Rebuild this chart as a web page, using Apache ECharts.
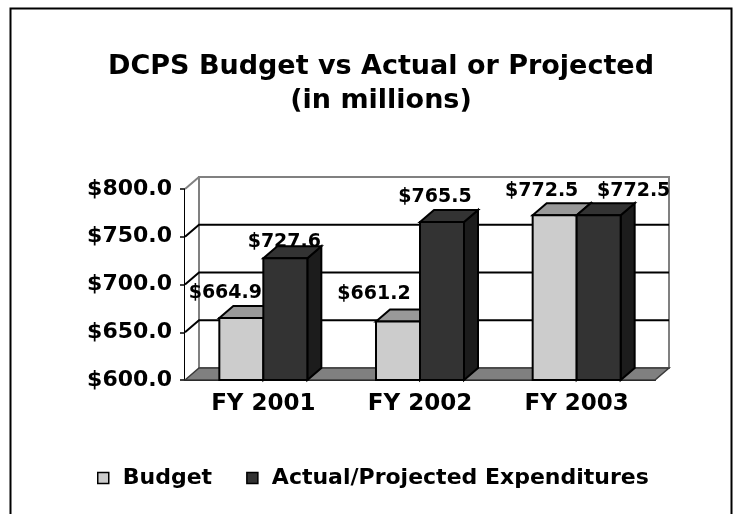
<!DOCTYPE html>
<html>
<head>
<meta charset="utf-8">
<script src="https://cdn.jsdelivr.net/npm/echarts@6/dist/echarts.min.js"></script>
<style>
  html, body { margin: 0; padding: 0; background: #fff; }
  #chart { width: 741px; height: 514px; }
</style>
</head>
<body>
<div id="chart"></div>
<script>
// 数据
var years = ['FY 2001', 'FY 2002', 'FY 2003'];
var budget = [664.9, 661.2, 772.5];
var actual = [727.6, 765.5, 772.5];
var yTicks = [600, 650, 700, 750, 800];

// 3D 外观
var DX = 14, DY = -12, BAR_W = 44;
var FONT = '"DejaVu Sans", sans-serif';
var budgetNudge = [[-16, -25], [-24, -27], [-13, -24]];
var actualNudge = [[-1, -16], [-7, -25], [35, -24]];

function bar3d(side, colors, nudge) {
    return function (params, api) {
        var i = api.value(0), v = api.value(1);
        var top = api.coord([i, v]);
        var base = api.coord([i, yTicks[0]]);
        var x0 = side === 0 ? top[0] - BAR_W : top[0];
        var x1 = x0 + BAR_W;
        var ty = top[1], by = base[1];
        var line = { stroke: '#000', lineWidth: 2 };
        return {
            type: 'group',
            children: [
                {
                    type: 'text',
                    style: {
                        text: '$' + v.toFixed(1),
                        x: x0 + BAR_W / 2 + nudge[i][0],
                        y: ty + nudge[i][1],
                        align: 'center',
                        verticalAlign: 'middle',
                        font: 'bold 19px ' + FONT,
                        fill: '#000'
                    }
                },
                {
                    type: 'polygon',
                    shape: { points: [[x1, ty], [x1 + DX, ty + DY], [x1 + DX, by + DY], [x1, by]] },
                    style: Object.assign({ fill: colors.side }, line)
                },
                {
                    type: 'polygon',
                    shape: { points: [[x0, ty], [x0 + DX, ty + DY], [x1 + DX, ty + DY], [x1, ty]] },
                    style: Object.assign({ fill: colors.top }, line)
                },
                {
                    type: 'rect',
                    shape: { x: x0, y: ty, width: BAR_W, height: by - ty },
                    style: Object.assign({ fill: colors.front }, line)
                }
            ]
        };
    };
}

function walls(params, api) {
    var cs = params.coordSys;
    var xl = cs.x, xr = cs.x + cs.width;
    var yb = api.coord([0, yTicks[0]])[1];
    var yt = api.coord([0, yTicks[yTicks.length - 1]])[1];
    var children = [
        {
            type: 'polygon',
            shape: { points: [[xl, yt], [xl + DX, yt + DY], [xl + DX, yb + DY], [xl, yb]] },
            style: { fill: '#fff' }
        },
        {
            type: 'rect',
            shape: { x: xl + DX, y: yt + DY, width: cs.width, height: yb - yt },
            style: { fill: '#fff', stroke: '#808080', lineWidth: 2 }
        },
        {
            type: 'line',
            shape: { x1: xl, y1: yt, x2: xl + DX, y2: yt + DY },
            style: { stroke: '#808080', lineWidth: 2 }
        }
    ];
    yTicks.slice(1, -1).forEach(function (t) {
        var y = api.coord([0, t])[1];
        children.push({
            type: 'polyline',
            shape: { points: [[xl, y], [xl + DX, y + DY], [xr + DX, y + DY]] },
            style: { stroke: '#000', lineWidth: 2, fill: null }
        });
    });
    children.push({
        type: 'polygon',
        shape: { points: [[xl, yb], [xl + DX, yb + DY], [xr + DX, yb + DY], [xr, yb]] },
        style: { fill: '#808080', stroke: '#3a3a3a', lineWidth: 1.5 }
    });
    return { type: 'group', children: children };
}

var chart = echarts.init(document.getElementById('chart'));
chart.setOption({
    animation: false,
    backgroundColor: '#fff',
    title: {
        text: 'DCPS Budget vs Actual or Projected\n(in millions)',
        left: 376,
        textAlign: 'center',
        top: 45,
        textStyle: { fontFamily: FONT, fontWeight: 'bold', fontSize: 27, lineHeight: 34, color: '#000' }
    },
    graphic: [{
        type: 'rect',
        shape: { x: 10.5, y: 8.5, width: 721, height: 600 },
        style: { fill: null, stroke: '#000', lineWidth: 2 },
        z: 100
    }],
    legend: {
        left: 92,
        top: 462,
        icon: 'rect',
        itemWidth: 11,
        itemHeight: 11,
        itemGap: 34,
        selectedMode: false,
        data: ['Budget', 'Actual/Projected Expenditures'],
        itemStyle: { borderColor: '#000', borderWidth: 1.5 },
        textStyle: { fontFamily: FONT, fontWeight: 'bold', fontSize: 22, color: '#000', padding: [0, 0, 0, 9] }
    },
    grid: { left: 185, right: 86, top: 189, bottom: 134 },
    xAxis: {
        type: 'category',
        data: years,
        axisLine: { lineStyle: { color: '#000', width: 2 } },
        axisTick: { length: 6, interval: 0, lineStyle: { color: '#000', width: 1.5 } },
        axisLabel: { margin: 13, fontFamily: FONT, fontWeight: 'bold', fontSize: 23, color: '#000' }
    },
    yAxis: {
        type: 'value',
        min: 600,
        max: 800,
        interval: 50,
        axisLine: { show: true, lineStyle: { color: '#000', width: 2 } },
        axisTick: { show: true, length: 5, lineStyle: { color: '#000', width: 1.5 } },
        splitLine: { show: false },
        axisLabel: {
            margin: 13,
            fontFamily: FONT, fontWeight: 'bold', fontSize: 22, color: '#000',
            formatter: function (v) { return '$' + v.toFixed(1); }
        }
    },
    series: [
        {
            type: 'custom',
            name: 'walls',
            clip: false,
            z: 1,
            silent: true,
            renderItem: walls,
            encode: { x: 0, y: 1 },
            data: [[0, yTicks[0]]]
        },
        {
            type: 'custom',
            name: 'Budget',
            clip: false,
            z: 2,
            itemStyle: { color: '#cccccc' },
            renderItem: bar3d(0, { front: '#cccccc', top: '#999999', side: '#a6a6a6' }, budgetNudge),
            encode: { x: 0, y: 1 },
            data: budget.map(function (v, i) { return [i, v]; })
        },
        {
            type: 'custom',
            name: 'Actual/Projected Expenditures',
            clip: false,
            z: 3,
            itemStyle: { color: '#333333' },
            renderItem: bar3d(1, { front: '#333333', top: '#333333', side: '#1c1c1c' }, actualNudge),
            encode: { x: 0, y: 1 },
            data: actual.map(function (v, i) { return [i, v]; })
        }
    ]
});
</script>
</body>
</html>
